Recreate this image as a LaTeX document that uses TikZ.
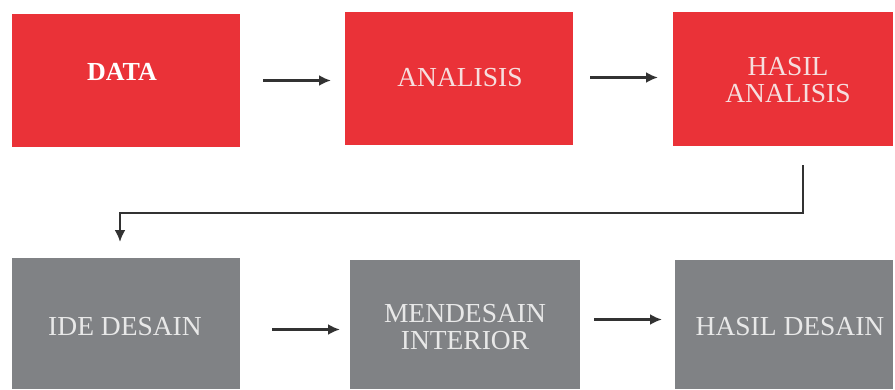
\documentclass[tikz,border=0pt]{standalone}
\usepackage{fontspec}
\setmainfont{Liberation Serif}
\usetikzlibrary{arrows.meta}
\definecolor{boxred}{RGB}{234,50,56}
\definecolor{boxgray}{RGB}{128,130,133}
\definecolor{txtred}{RGB}{246,222,222}
\definecolor{txtgray}{RGB}{232,232,232}
\definecolor{arrcol}{RGB}{50,50,50}
\tikzset{
  box/.style={anchor=north west, inner sep=0pt, outer sep=0pt},
  redbox/.style={box, fill=boxred},
  graybox/.style={box, fill=boxgray},
  lbl/.style={inner sep=0pt, align=center, font=\fontsize{27.5}{27}\selectfont},
  redlbl/.style={lbl, text=txtred},
  graylbl/.style={lbl, text=txtgray},
  arr/.style={draw=arrcol, line width=2.4pt, -{Latex[length=12pt,width=11pt]}}
}
\begin{document}
\begin{tikzpicture}[x=1pt,y=-1pt]
\fill[white] (0,0) rectangle (895,389);
\useasboundingbox (0,0) rectangle (895,389);
% boxes
\node[redbox, minimum width=228pt, minimum height=133pt] (data) at (12,14) {};
\node[redbox, minimum width=228pt, minimum height=133pt] (analisis) at (345,12) {};
\node[redbox, minimum width=220pt, minimum height=134pt] (hasilan) at (673,12) {};
\node[graybox, minimum width=228pt, minimum height=131pt] (ide) at (12,258) {};
\node[graybox, minimum width=230pt, minimum height=129pt] (mendesain) at (350,260) {};
\node[graybox, minimum width=218pt, minimum height=129pt] (hasildes) at (675,260) {};
% labels
\node[lbl, text=white, font=\fontsize{26}{26}\selectfont\bfseries] (tdata) at (122,72) {DATA};
\node[redlbl] (tanalisis) at (460,78) {ANALISIS};
\node[redlbl] (thasilan) at (788,80) {HASIL\\ANALISIS};
\node[graylbl] (tide) at (125,327) {IDE DESAIN};
\node[graylbl] (tmendesain) at (465,327) {MENDESAIN\\INTERIOR};
\node[graylbl] (thasildes) at (790,327) {HASIL DESAIN};
% arrows
\draw[arr, shorten <=23pt, shorten >=14pt] (data.east) -- (data.east -| analisis.west);
\draw[arr, shorten <=17pt, shorten >=15pt] ([yshift=1pt]analisis.east) -- ([yshift=1pt]analisis.east -| hasilan.west);
\draw[arr, shorten <=32pt, shorten >=10pt] ([yshift=-6pt]ide.east) -- ([yshift=-6pt]ide.east -| mendesain.west);
\draw[arr, shorten <=14pt, shorten >=13pt] ([yshift=5pt]mendesain.east) -- ([yshift=5pt]mendesain.east -| hasildes.west);
\coordinate (turn) at (120,213);
\draw[arr] ([xshift=20pt,yshift=-19pt]hasilan.south) |- (turn) -- ([xshift=-6pt,yshift=16pt]ide.north);
\end{tikzpicture}
\end{document}
